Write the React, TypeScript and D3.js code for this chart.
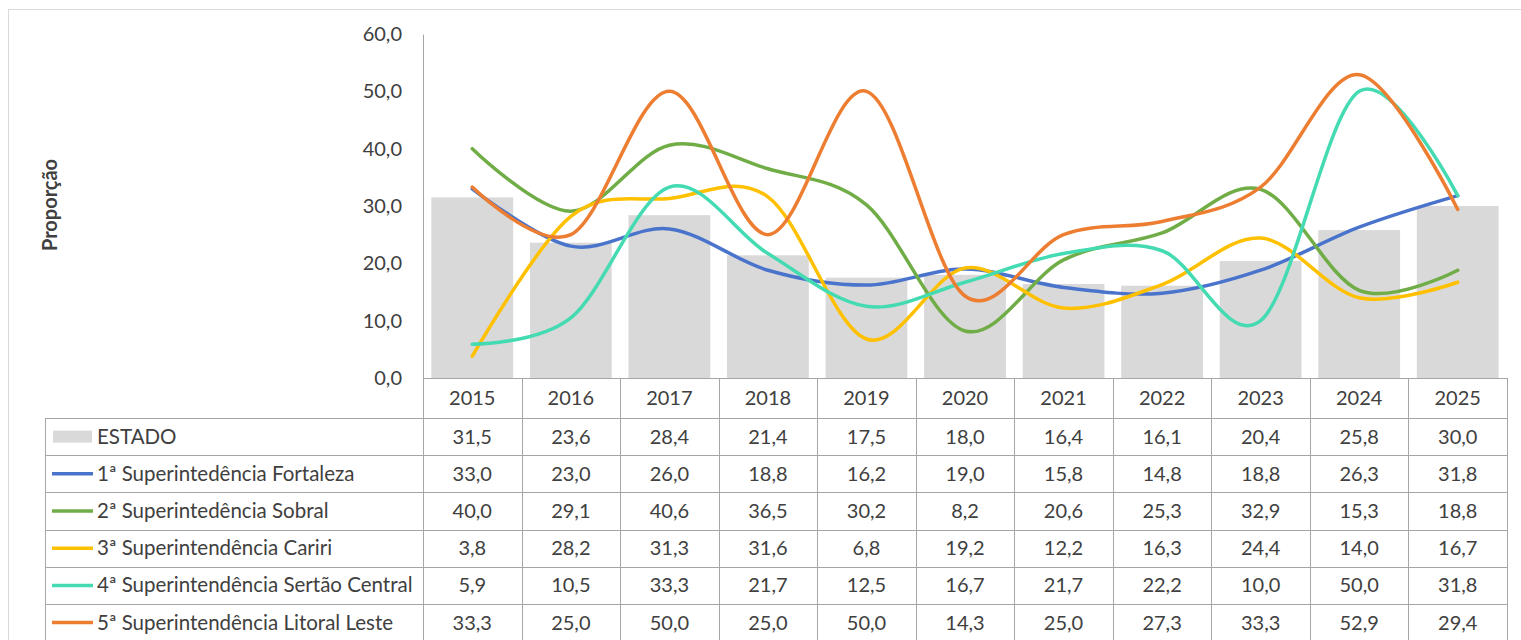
import { useEffect, useRef } from "react";
import * as d3 from "d3";

const years = ["2015", "2016", "2017", "2018", "2019", "2020", "2021", "2022", "2023", "2024", "2025"];
const estado = [31.5, 23.6, 28.4, 21.4, 17.5, 18.0, 16.4, 16.1, 20.4, 25.8, 30.0];
const fortaleza = [33.0, 23.0, 26.0, 18.8, 16.2, 19.0, 15.8, 14.8, 18.8, 26.3, 31.8];
const sobral = [40.0, 29.1, 40.6, 36.5, 30.2, 8.2, 20.6, 25.3, 32.9, 15.3, 18.8];
const cariri = [3.8, 28.2, 31.3, 31.6, 6.8, 19.2, 12.2, 16.3, 24.4, 14.0, 16.7];
const sertao = [5.9, 10.5, 33.3, 21.7, 12.5, 16.7, 21.7, 22.2, 10.0, 50.0, 31.8];
const litoral = [33.3, 25.0, 50.0, 25.0, 50.0, 14.3, 25.0, 27.3, 33.3, 52.9, 29.4];
const yTicks = [0, 10, 20, 30, 40, 50, 60];

const barName = "ESTADO";
const lineNames = [
  "1ª Superintedência Fortaleza",
  "2ª Superintedência Sobral",
  "3ª Superintendência Cariri",
  "4ª Superintendência Sertão Central",
  "5ª Superintendência Litoral Leste",
];
const lineSeries = [fortaleza, sobral, cariri, sertao, litoral];
const lineColors = ["#4a74cc", "#70ad47", "#ffc000", "#45dbb2", "#ed7d31"];

const W = 1521;
const H = 640;
const FONT = "Lato, 'Open Sans', sans-serif";

export default function App() {
  const ref = useRef<SVGSVGElement>(null);

  useEffect(() => {
    const svg = d3.select(ref.current);
    svg.selectAll("*").remove();

    const left = 423, right = 1507, top = 34, bottom = 378;
    const headerH = 40, rowH = 37.2, tableLeft = 45;
    const textColor = "#404040";
    const gridColor = "#a6a6a6";

    const x = d3.scaleBand().domain(years).range([left, right]).padding(0);
    const y = d3.scaleLinear().domain([0, 60]).range([bottom, top]);
    const fmt = (v: number) => v.toFixed(1).replace(".", ",");

    // outer chart frame
    svg.append("rect")
      .attr("x", 8.5).attr("y", 9.5)
      .attr("width", 1530).attr("height", 700)
      .attr("fill", "white").attr("stroke", "#d9d9d9");

    // bars (ESTADO)
    const bw = x.bandwidth() * 0.83;
    svg.append("g").selectAll("rect")
      .data(estado)
      .join("rect")
      .attr("x", (d, i) => x(years[i])! + (x.bandwidth() - bw) / 2)
      .attr("y", d => y(d))
      .attr("width", bw)
      .attr("height", d => bottom - y(d))
      .attr("fill", "#d9d9d9");

    // smooth lines
    const line = d3.line<number>()
      .x((d, i) => x(years[i])! + x.bandwidth() / 2)
      .y(d => y(d))
      .curve(d3.curveCardinal.tension(0));

    lineSeries.forEach((s, k) => {
      svg.append("path")
        .datum(s)
        .attr("d", line)
        .attr("fill", "none")
        .attr("stroke", lineColors[k])
        .attr("stroke-width", 3.5)
        .attr("stroke-linecap", "round");
    });

    // Y axis
    const yAxis = svg.append("g")
      .attr("transform", `translate(${left},0)`)
      .call(d3.axisLeft(y).tickValues(yTicks).tickSize(0).tickPadding(21).tickFormat(d => fmt(+d)));
    yAxis.select(".domain").attr("stroke", gridColor);
    yAxis.selectAll("text")
      .attr("font-family", FONT)
      .attr("font-size", 20)
      .attr("fill", textColor);

    svg.append("text")
      .attr("transform", `translate(57,205) rotate(-90)`)
      .attr("text-anchor", "middle")
      .attr("font-family", FONT)
      .attr("font-size", 20)
      .attr("font-weight", "bold")
      .attr("fill", textColor)
      .text("Proporção");

    // data table
    const table = svg.append("g");
    const rowsTop = bottom + headerH;
    const nRows = 1 + lineNames.length;
    const tableBottom = rowsTop + rowH * nRows;

    // horizontal lines
    table.append("line")
      .attr("x1", left).attr("x2", right)
      .attr("y1", bottom + 0.5).attr("y2", bottom + 0.5)
      .attr("stroke", gridColor);
    d3.range(nRows + 1).forEach(r => {
      const yy = Math.round(rowsTop + r * rowH) + 0.5;
      table.append("line")
        .attr("x1", tableLeft).attr("x2", right)
        .attr("y1", yy).attr("y2", yy)
        .attr("stroke", gridColor);
    });
    // vertical lines
    years.forEach(yr => {
      const xx = Math.round(x(yr)! + x.bandwidth()) + 0.5;
      table.append("line")
        .attr("x1", xx).attr("x2", xx)
        .attr("y1", bottom).attr("y2", tableBottom)
        .attr("stroke", gridColor);
    });
    table.append("line")
      .attr("x1", left + 0.5).attr("x2", left + 0.5)
      .attr("y1", bottom).attr("y2", tableBottom)
      .attr("stroke", gridColor);
    table.append("line")
      .attr("x1", tableLeft + 0.5).attr("x2", tableLeft + 0.5)
      .attr("y1", rowsTop).attr("y2", tableBottom)
      .attr("stroke", gridColor);

    // header years
    table.append("g").selectAll("text")
      .data(years)
      .join("text")
      .attr("x", d => x(d)! + x.bandwidth() / 2)
      .attr("y", bottom + headerH / 2 + 7)
      .attr("text-anchor", "middle")
      .attr("font-family", FONT)
      .attr("font-size", 20)
      .attr("fill", textColor)
      .text(d => d);

    const allRows = [estado, ...lineSeries];
    const allNames = [barName, ...lineNames];
    allRows.forEach((vals, r) => {
      const cy = rowsTop + r * rowH + rowH / 2;
      // legend key
      if (r === 0) {
        table.append("rect")
          .attr("x", 53).attr("y", cy - 6)
          .attr("width", 39).attr("height", 12)
          .attr("fill", "#d9d9d9");
      } else {
        table.append("line")
          .attr("x1", 52).attr("x2", 93)
          .attr("y1", cy).attr("y2", cy)
          .attr("stroke", lineColors[r - 1])
          .attr("stroke-width", 3.5);
      }
      table.append("text")
        .attr("x", 97).attr("y", cy + 7)
        .attr("font-family", FONT)
        .attr("font-size", 20.5)
        .attr("fill", textColor)
        .text(allNames[r]);

      table.append("g").selectAll("text")
        .data(vals)
        .join("text")
        .attr("x", (d, i) => x(years[i])! + x.bandwidth() / 2)
        .attr("y", cy + 7)
        .attr("text-anchor", "middle")
        .attr("font-family", FONT)
        .attr("font-size", 20)
        .attr("fill", textColor)
        .text(d => fmt(d));
    });
  }, []);

  return (
    <svg ref={ref} width={W} height={H}
      style={{ position: "absolute", left: 0, top: 0, background: "white" }} />
  );
}
